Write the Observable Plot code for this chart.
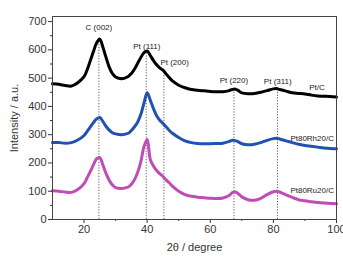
<!DOCTYPE html>
<html>
<head>
<meta charset="utf-8">
<script src="https://cdn.jsdelivr.net/npm/d3@7"></script>
<script src="https://cdn.jsdelivr.net/npm/@observablehq/plot@0.6"></script>
<style>
  html, body { margin: 0; padding: 0; background: #fff; }
  svg { display: block; }
</style>
</head>
<body>
<div id="chart"></div>
<script>
// 2θ positions (degrees)
const twoTheta = [10,12,14,16,18,20,21,22,23,24,25,26,27,28,29,30,32,34,35,36,37,38,39,40,41,42,43,44,45,46,47,48,50,52,54,56,58,60,62,64,66,67,68,69,70,72,74,76,78,80,81,82,84,86,88,90,92,94,96,98,100];

// XRD intensities (a.u., offset per sample)
const ptC = [480,478,474,472,484,505,530,562,595,625,638,608,572,538,516,504,498,506,516,532,553,573,590,596,580,562,547,536,528,515,502,490,475,466,460,457,455,453,452,452,456,460,461,455,448,445,446,450,456,462,463,460,454,448,446,444,440,437,436,435,433];
const ptRh = [272,272,270,272,281,297,312,328,343,356,361,346,329,316,307,303,300,305,315,328,345,372,412,448,422,392,367,351,340,328,315,305,290,278,272,269,268,268,269,270,276,280,279,274,268,264,266,272,280,286,287,285,278,272,266,262,259,256,253,251,250];
const ptRu = [102,100,97,96,106,127,148,170,194,215,219,192,162,138,122,113,110,115,125,141,167,205,258,283,212,189,173,162,152,140,130,118,100,88,82,79,77,75,74,76,85,95,97,90,80,70,68,75,88,98,100,97,87,78,70,66,63,60,58,57,56];

// Reflection markers
const peakNames = ["C (002)", "Pt (111)", "Pt (200)", "Pt (220)", "Pt (311)"];
const peakPos = [24.7, 39.7, 45.3, 67.5, 81.3];
const peakTop = [640, 595, 528, 461, 463];
const peakLabelX = [24.7, 39.9, 48.7, 67.5, 81.4];
const peakLabelY = [678, 611, 555, 491, 488];

// Sample names
const sampleNames = ["Pt/C", "Pt80Rh20/C", "Pt80Ru20/C"];
const sampleLabelX = [93.8, 99.2, 99.2];
const sampleLabelY = [466, 286, 102];
const sampleColors = ["#000000", "#2152b3", "#c04cb5"];

const xTicks = [20, 40, 60, 80, 100];
const xMinor = [30, 50, 70, 90];
const yTicks = [0, 100, 200, 300, 400, 500, 600, 700];
const yMinor = [50, 150, 250, 350, 450, 550, 650];

const series = [ptC, ptRh, ptRu];
const rows = series.flatMap((vals, s) => vals.map((v, i) => ({x: twoTheta[i], y: v, s: sampleNames[s]})));
const peaks = peakNames.map((n, i) => ({name: n, pos: peakPos[i], top: peakTop[i], lx: peakLabelX[i], ly: peakLabelY[i]}));
const samples = sampleNames.map((n, i) => ({name: n, x: sampleLabelX[i], y: sampleLabelY[i]}));

const font = "'Liberation Sans', Arial, sans-serif";

const chart = Plot.plot({
  width: 343,
  height: 256,
  marginLeft: 52,
  marginRight: 7,
  marginTop: 16,
  marginBottom: 37,
  style: {fontFamily: font, fontSize: "11px", color: "#333", background: "#fff"},
  x: {domain: [10, 100]},
  y: {domain: [0, 718]},
  color: {domain: sampleNames, range: sampleColors},
  marks: [
    Plot.ruleX(peaks, {x: "pos", y1: 0, y2: "top", stroke: "#333", strokeWidth: 0.8, strokeDasharray: "1.2,1.6"}),
    Plot.line(rows, {x: "x", y: "y", z: "s", stroke: "s", strokeWidth: 3, curve: "catmull-rom"}),
    Plot.text(peaks, {x: "lx", y: "ly", text: "name", fontSize: 8, fill: "#222"}),
    Plot.text(samples.slice(0, 1), {x: "x", y: "y", text: "name", fontSize: 8, fill: "#222", textAnchor: "middle"}),
    Plot.text(samples.slice(1), {x: "x", y: "y", text: "name", fontSize: 8, fill: "#222", textAnchor: "end"}),
    Plot.axisX(xTicks, {tickSize: 4, tickPadding: 2, label: "2θ / degree", labelAnchor: "center", labelArrow: "none", labelOffset: 31, fontSize: 11}),
    Plot.axisX(xMinor, {tickSize: 2, tickFormat: () => "", label: null}),
    Plot.axisY(yTicks, {tickSize: 4, tickPadding: 2, label: "Intensity / a.u.", labelAnchor: "center", labelArrow: "none", labelOffset: 42, fontSize: 11}),
    Plot.axisY(yMinor, {tickSize: 2, tickFormat: () => "", label: null}),
    Plot.frame({stroke: "#444"})
  ]
});

document.getElementById("chart").appendChild(chart);
</script>
</body>
</html>
